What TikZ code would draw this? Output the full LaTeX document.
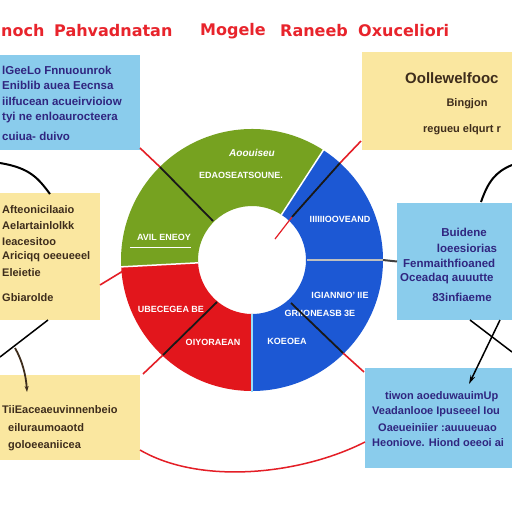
\documentclass[tikz,border=0pt]{standalone}
\usepackage{fontspec}
\setmainfont{Liberation Sans}
\newfontfamily\dvs{DejaVu Sans}
\usetikzlibrary{calc,arrows.meta}
\definecolor{boxblue}{RGB}{138,204,236}
\definecolor{boxyel}{RGB}{250,231,160}
\definecolor{ttlred}{RGB}{232,36,44}
\definecolor{navy}{RGB}{48,38,128}
\definecolor{brownink}{RGB}{62,45,28}
\definecolor{segg}{RGB}{118,162,32}
\definecolor{segb}{RGB}{28,88,212}
\definecolor{segr}{RGB}{226,22,28}
\definecolor{lnred}{RGB}{228,30,38}
\tikzset{
  bluebox/.style={fill=boxblue,draw=none,inner sep=0pt,outer sep=0pt,anchor=north west},
  yelbox/.style={fill=boxyel,draw=none,inner sep=0pt,outer sep=0pt,anchor=north west},
  bt/.style={font=\bfseries\fontsize{11.5}{13}\selectfont,text=navy,inner sep=0pt},
  yt/.style={font=\bfseries\fontsize{11}{13}\selectfont,text=brownink,inner sep=0pt},
  ttl/.style={font=\dvs\bfseries\fontsize{16}{20}\selectfont,text=ttlred,inner sep=0pt,anchor=west},
  dt/.style={font=\bfseries\fontsize{9}{10}\selectfont,text=white,inner sep=0pt},
  redln/.style={draw=lnred,line width=1.6pt},
  blkln/.style={draw=black!90,line width=1.8pt},
}
\begin{document}
\begin{tikzpicture}[x=1pt,y=-1pt]
\useasboundingbox (0,0) rectangle (512,512);
\fill[white] (0,0) rectangle (512,512);

% title
\node[ttl] (t1) at (1,31) {noch};
\node[ttl] (t2) at (54,31) {Pahvadnatan};
\node[ttl] (t3) at (200,31) {Mogele};
\node[ttl] (t4) at (280,31) {Raneeb};
\node[ttl] (t5) at (358,31) {Oxuceliori};

% boxes
\node[bluebox,minimum width=140,minimum height=95] (tl) at (0,55) {};
\node[yelbox,minimum width=150,minimum height=98] (tr) at (362,52) {};
\node[yelbox,minimum width=100,minimum height=127] (lm) at (0,193) {};
\node[bluebox,minimum width=115,minimum height=117] (rm) at (397,203) {};
\node[yelbox,minimum width=140,minimum height=85] (bl) at (0,375) {};
\node[bluebox,minimum width=147,minimum height=100] (br) at (365,368) {};

% box texts
\node[bt,anchor=west] (tl1) at (2,70) {lGeeLo Fnnuounrok};
\node[bt,anchor=west] (tl2) at (2,85) {Eniblib auea Eecnsa};
\node[bt,anchor=west] (tl3) at (2,101) {iiIfucean acueirvioiow};
\node[bt,anchor=west] (tl4) at (2,118) {tyi ne enloaurocteera};
\node[bt,anchor=west] (tl5) at (2,136) {cuiua- duivo};

\node[yt,anchor=west,font=\bfseries\fontsize{15}{16}\selectfont] (tr1) at (405,78) {Oollewelfooc};
\node[yt] (tr2) at (467,104) {Bingjon};
\node[yt,anchor=west] (tr3) at (423,130) {regueu elqurt r};

\node[yt,anchor=west] (lm1) at (2,210) {Afteonicilaaio};
\node[yt,anchor=west] (lm2) at (2,226) {Aelartainlolkk};
\node[yt,anchor=west] (lm3) at (2,242) {Ieacesitoo};
\node[yt,anchor=west] (lm4) at (2,257) {Ariciqq oeeueeel};
\node[yt,anchor=west] (lm5) at (2,273) {Eleietie};
\node[yt,anchor=west] (lm6) at (2,298) {Gbiarolde};

\node[bt] (rm1) at (464,232) {Buidene};
\node[bt] (rm2) at (467,248) {loeesiorias};
\node[bt,anchor=west] (rm3) at (403,263) {Fenmaithfioaned};
\node[bt,anchor=west] (rm4) at (400,279) {Oceadaq auuutte};
\node[bt] (rm5) at (462,297) {83infiaeme};

\node[yt,anchor=west] (bl1) at (2,410) {TiiEaceaeuvinnenbeio};
\node[yt,anchor=west] (bl2) at (8,428) {eiluraumoaotd};
\node[yt,anchor=west] (bl3) at (8,446) {goloeeaniicea};

\node[bt,anchor=west,font=\bfseries\fontsize{11}{13}\selectfont] (br1) at (385,397) {tiwon aoeduwauimUp};
\node[bt,anchor=west,font=\bfseries\fontsize{11}{13}\selectfont] (br2) at (372,412) {Veadanlooe Ipuseeel Iou};
\node[bt,anchor=west,font=\bfseries\fontsize{11}{13}\selectfont] (br3) at (378,428) {Oaeueiniier :auuueuao};
\node[bt,anchor=west,font=\bfseries\fontsize{11}{13}\selectfont] (br4) at (372,443) {Heoniove. Hiond oeeoi ai};

% donut
\coordinate (c) at (252,260);
\fill[segg] ($(c)+(-57:131)$) arc[start angle=-57,end angle=-183,radius=131]
  -- ($(c)+(-183:54)$) arc[start angle=-183,end angle=-57,radius=54] -- cycle;
\fill[segr] ($(c)+(-183:131)$) arc[start angle=-183,end angle=-270,radius=131]
  -- ($(c)+(-270:54)$) arc[start angle=-270,end angle=-183,radius=54] -- cycle;
\fill[segb] ($(c)+(90:131)$) arc[start angle=90,end angle=-57,radius=131]
  -- ($(c)+(-57:54)$) arc[start angle=-57,end angle=90,radius=54] -- cycle;
\draw[white,line width=1.5pt] ($(c)+(-57:54)$) -- ($(c)+(-57:132)$);
\draw[white,line width=1.5pt] ($(c)+(-183:54)$) -- ($(c)+(-183:132)$);
\draw[cyan!40,line width=1.2pt] ($(c)+(90:54)$) -- ($(c)+(90:132)$);

% donut texts
\node[dt,font=\bfseries\itshape\fontsize{10}{11}\selectfont] (g1) at (252,153) {Aoouiseu};
\node[dt] (g2) at (241,175) {EDAOSEATSOUNE.};
\node[dt] (g3) at (164,237) {AVIL ENEOY};
\draw[white,line width=0.8pt] (130,247) -- (191,247);
\node[dt] (b1) at (340,219) {IIIIIIOOVEAND};
\node[dt] (b2) at (340,295) {IGIANNIO' IIE};
\node[dt] (b3) at (320,313) {GRIIONEASB 3E};
\node[dt] (b4) at (287,341) {KOEOEA};
\node[dt] (r1) at (171,309) {UBECEGEA BE};
\node[dt] (r2) at (213,342) {OIYORAEAN};

% connectors to donut
\coordinate (tlA) at (140,148); \coordinate (tlB) at (160,167); \coordinate (tlC) at (213,221);
\draw[redln] (tlA) -- (tlB); \draw[blkln] (tlB) -- (tlC);
\coordinate (trA) at (361,141); \coordinate (trB) at (340,163); \coordinate (trC) at (292,217); \coordinate (trD) at (275,239);
\draw[redln] (trA) -- (trB); \draw[blkln] (trB) -- (trC); \draw[redln,line width=1.2pt] (trC) -- (trD);
\coordinate (lA) at (100,285); \coordinate (lB) at (123,271);
\draw[redln] (lA) -- (lB);
\coordinate (blA) at (143,374); \coordinate (blB) at (163,355); \coordinate (blC) at (217,302);
\draw[redln] (blA) -- (blB); \draw[blkln] (blB) -- (blC);
\coordinate (brA) at (364,372); \coordinate (brB) at (343,353); \coordinate (brC) at (291,303);
\draw[redln] (brA) -- (brB); \draw[blkln] (brB) -- (brC);
\coordinate (rA) at (307,260); \coordinate (rO) at (383,260);
\draw[gray!50,line width=1.5pt] (rA) -- (rO);
\draw[black!75,line width=2pt] (rO) -- (rm.west);

% black curves between boxes
\coordinate (k1) at (0,163);
\draw[black,line width=2pt] (k1) .. controls (30,168) and (38,178) .. (50,194);
\coordinate (k2a) at (48,320); \coordinate (k2b) at (0,357);
\draw[black,line width=1.5pt] (k2a) -- (k2b);
\coordinate (k3a) at (15,348); \coordinate (k3b) at (27,392);
\draw[brownink,line width=1.8pt,-{Stealth[length=6pt,width=4pt]}] (k3a) .. controls (22,360) and (26,375) .. (k3b);
\coordinate (k4) at (512,165);
\draw[black,line width=2pt] (k4) .. controls (495,172) and (488,182) .. (481,202);
\coordinate (k5a) at (470,320); \coordinate (k5b) at (512,352);
\draw[black,line width=1.5pt] (k5a) -- (k5b);
\coordinate (k6a) at (500,320); \coordinate (k6b) at (469,384);
\draw[black,line width=1.5pt,-{Stealth[length=9pt,width=5pt]}] (k6a) -- (k6b);

% red bottom curve
\coordinate (rbA) at (140,450); \coordinate (rbB) at (365,442);
\draw[redln,line width=1.5pt] (rbA) .. controls (200,485) and (300,475) .. (rbB);
\end{tikzpicture}
\end{document}
